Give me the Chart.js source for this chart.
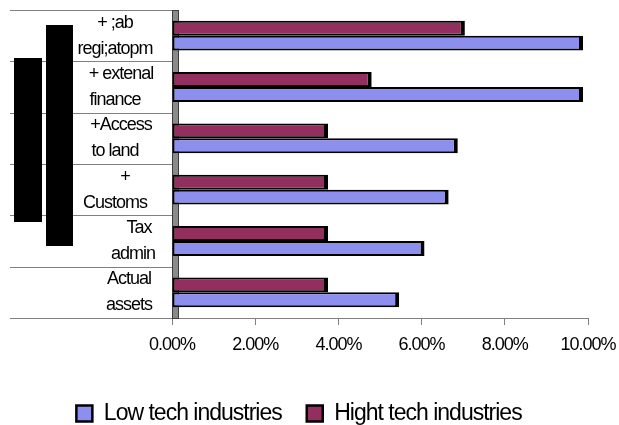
<!DOCTYPE html>
<html>
<head>
  <meta charset="UTF-8" />
  <title>Industries</title>
  <script src="https://cdn.jsdelivr.net/npm/chart.js"></script>
  <style>
    body {
      margin: 0;
      background-color: white;
    }
    #wrap {
      width: 619px;
      height: 425px;
    }
  </style>
</head>
<body>
  <div id="wrap"><canvas id="chart"></canvas></div>

  <script>
    // kategorie (dvouřádkové popisky, mezery kvůli zarovnání jako v originále)
    const categories = [
      ['+ ;ab', 'regi;atopm'],
      ['   + extenal', 'finance'],
      ['   +Access', 'to land'],
      ['     +', 'Customs'],
      ['            Tax', '         admin'],
      ['       Actual', '       assets']
    ];
    const hightTech = [7.04, 4.8, 3.75, 3.75, 3.75, 3.75];
    const lowTech = [9.88, 9.88, 6.87, 6.65, 6.07, 5.46];
    const xTicks = [0, 2, 4, 6, 8, 10];

    const FONT = 'Liberation Sans, Arial, sans-serif';

    // užší písmo jako v Excelu
    const spacingPlugin = {
      id: 'spacing',
      beforeLayout(chart) { chart.ctx.letterSpacing = '-1px'; },
      beforeDraw(chart) { chart.ctx.letterSpacing = '-1px'; }
    };

    // šedá "stěna" za sloupci
    const wallPlugin = {
      id: 'wall',
      beforeDatasetsDraw(chart) {
        const { ctx, chartArea } = chart;
        ctx.save();
        ctx.fillStyle = '#8a8a8a';
        ctx.strokeStyle = '#3c3c3c';
        ctx.lineWidth = 1;
        ctx.fillRect(chartArea.left, chartArea.top, 6, chartArea.bottom - chartArea.top);
        ctx.strokeRect(chartArea.left + 0.5, chartArea.top + 0.5, 6, chartArea.bottom - chartArea.top);
        ctx.restore();
      }
    };

    // čáry mezi popisky + černé obdélníky vlevo
    const labelLinesPlugin = {
      id: 'labelLines',
      afterDraw(chart) {
        const { ctx, chartArea } = chart;
        const y = chart.scales.y;
        const n = categories.length;
        const band = (y.bottom - y.top) / n;
        ctx.save();
        ctx.strokeStyle = '#808080';
        ctx.lineWidth = 1;
        for (let k = 0; k <= n; k++) {
          const py = Math.round(y.top + k * band) + 0.5;
          ctx.beginPath();
          ctx.moveTo(y.left, py);
          ctx.lineTo(chartArea.left, py);
          ctx.stroke();
        }
        ctx.fillStyle = '#000';
        ctx.fillRect(14, 58, 28, 164);
        ctx.fillRect(46, 25, 27, 221);
        ctx.restore();
      }
    };

    const ctx = document.getElementById('chart').getContext('2d');
    window.myChart = new Chart(ctx, {
      type: 'bar',
      data: {
        labels: categories,
        datasets: [
          {
            label: 'Hight tech industries',
            data: hightTech,
            backgroundColor: '#932f5f',
            borderColor: '#000',
            borderWidth: { top: 2, right: 4, bottom: 2, left: 2 },
            borderSkipped: false
          },
          {
            label: 'Low tech industries',
            data: lowTech,
            backgroundColor: '#8c8fee',
            borderColor: '#000',
            borderWidth: { top: 2, right: 4, bottom: 2, left: 2 },
            borderSkipped: false
          }
        ]
      },
      options: {
        indexAxis: 'y',
        responsive: true,
        maintainAspectRatio: false,
        animation: false,
        layout: { padding: { left: 10, top: 10, right: 31, bottom: -10 } },
        datasets: {
          bar: { barPercentage: 1, categoryPercentage: 0.58 }
        },
        scales: {
          x: {
            min: 0,
            max: 10,
            afterBuildTicks: (scale) => { scale.ticks = xTicks.map(v => ({ value: v })); },
            afterFit: (scale) => {
              scale.height = 59;
              scale.paddingLeft = 0;
              scale.paddingRight = 0;
            },
            grid: { drawOnChartArea: false, drawTicks: true, tickLength: 7, color: '#808080' },
            border: { display: true, color: '#808080' },
            ticks: {
              color: '#000',
              padding: 9,
              font: { family: FONT, size: 18 },
              callback: v => v.toFixed(2) + '%'
            }
          },
          y: {
            grid: { display: false },
            border: { display: false },
            afterFit: (scale) => {
              scale.width = 162;
              scale.paddingTop = 0;
              scale.paddingBottom = 0;
            },
            ticks: {
              color: '#000',
              autoSkip: false,
              crossAlign: 'center',
              padding: 9,
              font: { family: FONT, size: 18, lineHeight: 1.44 }
            }
          }
        },
        plugins: {
          legend: {
            position: 'bottom',
            reverse: true,
            labels: {
              color: '#000',
              boxWidth: 16,
              boxHeight: 16,
              padding: 25,
              font: { family: FONT, size: 23 }
            }
          },
          tooltip: { enabled: false }
        }
      },
      plugins: [spacingPlugin, wallPlugin, labelLinesPlugin]
    });
  </script>
</body>
</html>
